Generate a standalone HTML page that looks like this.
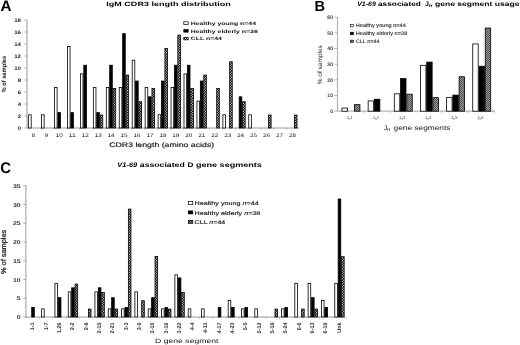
<!DOCTYPE html><html><head><meta charset="utf-8"><style>html,body{margin:0;padding:0;background:#fff;overflow:hidden}svg{display:block;will-change:transform}text{font-family:"Liberation Sans",sans-serif;text-rendering:geometricPrecision}</style></head><body>
<svg width="520" height="345" viewBox="0 0 520 345">
<defs><pattern id="hatA" patternUnits="userSpaceOnUse" width="2" height="2.6"><rect width="2" height="2.6" fill="#000"/><rect x="0" y="0.2" width="1" height="1" fill="#fff"/><rect x="1" y="1.5" width="1" height="1" fill="#fff"/></pattern><pattern id="hatB" patternUnits="userSpaceOnUse" width="2" height="2"><rect width="2" height="2" fill="#9c9c9c"/><path d="M0,0 L1,0 L1,1 L0,1 Z M1,1 L2,1 L2,2 L1,2Z" fill="#4c4c4c"/></pattern></defs>
<rect width="520" height="345" fill="#fff"/>
<text x="0.40" y="10.60" font-size="15.3" font-weight="bold" >A</text>
<text x="106.30" y="5.80" font-size="6.1" font-weight="bold" textLength="124.40" lengthAdjust="spacingAndGlyphs" >IgM CDR3 length distribution</text>
<line x1="27.00" y1="20.00" x2="27.00" y2="128.00" stroke="#9a9a9a" stroke-width="1"/>
<line x1="27.00" y1="128.00" x2="299.20" y2="128.00" stroke="#9a9a9a" stroke-width="1"/>
<line x1="24.50" y1="128.00" x2="27.00" y2="128.00" stroke="#9a9a9a" stroke-width="0.8"/>
<text x="21.00" y="129.85" font-size="5.1" font-weight="bold" text-anchor="end" textLength="3.30" lengthAdjust="spacingAndGlyphs" fill="#222" >0</text>
<line x1="24.50" y1="116.00" x2="27.00" y2="116.00" stroke="#9a9a9a" stroke-width="0.8"/>
<text x="21.00" y="117.85" font-size="5.1" font-weight="bold" text-anchor="end" textLength="3.30" lengthAdjust="spacingAndGlyphs" fill="#222" >2</text>
<line x1="24.50" y1="104.00" x2="27.00" y2="104.00" stroke="#9a9a9a" stroke-width="0.8"/>
<text x="21.00" y="105.85" font-size="5.1" font-weight="bold" text-anchor="end" textLength="3.30" lengthAdjust="spacingAndGlyphs" fill="#222" >4</text>
<line x1="24.50" y1="92.00" x2="27.00" y2="92.00" stroke="#9a9a9a" stroke-width="0.8"/>
<text x="21.00" y="93.85" font-size="5.1" font-weight="bold" text-anchor="end" textLength="3.30" lengthAdjust="spacingAndGlyphs" fill="#222" >6</text>
<line x1="24.50" y1="80.00" x2="27.00" y2="80.00" stroke="#9a9a9a" stroke-width="0.8"/>
<text x="21.00" y="81.85" font-size="5.1" font-weight="bold" text-anchor="end" textLength="3.30" lengthAdjust="spacingAndGlyphs" fill="#222" >8</text>
<line x1="24.50" y1="68.00" x2="27.00" y2="68.00" stroke="#9a9a9a" stroke-width="0.8"/>
<text x="21.00" y="69.85" font-size="5.1" font-weight="bold" text-anchor="end" textLength="6.80" lengthAdjust="spacingAndGlyphs" fill="#222" >10</text>
<line x1="24.50" y1="56.00" x2="27.00" y2="56.00" stroke="#9a9a9a" stroke-width="0.8"/>
<text x="21.00" y="57.85" font-size="5.1" font-weight="bold" text-anchor="end" textLength="6.80" lengthAdjust="spacingAndGlyphs" fill="#222" >12</text>
<line x1="24.50" y1="44.00" x2="27.00" y2="44.00" stroke="#9a9a9a" stroke-width="0.8"/>
<text x="21.00" y="45.85" font-size="5.1" font-weight="bold" text-anchor="end" textLength="6.80" lengthAdjust="spacingAndGlyphs" fill="#222" >14</text>
<line x1="24.50" y1="32.00" x2="27.00" y2="32.00" stroke="#9a9a9a" stroke-width="0.8"/>
<text x="21.00" y="33.85" font-size="5.1" font-weight="bold" text-anchor="end" textLength="6.80" lengthAdjust="spacingAndGlyphs" fill="#222" >16</text>
<line x1="24.50" y1="20.00" x2="27.00" y2="20.00" stroke="#9a9a9a" stroke-width="0.8"/>
<text x="21.00" y="21.85" font-size="5.1" font-weight="bold" text-anchor="end" textLength="6.80" lengthAdjust="spacingAndGlyphs" fill="#222" >18</text>
<line x1="28.00" y1="128.00" x2="28.00" y2="129.50" stroke="#9a9a9a" stroke-width="0.8"/>
<text x="33.40" y="136.80" font-size="5.2" text-anchor="middle" textLength="3.40" lengthAdjust="spacingAndGlyphs" fill="#111" >8</text>
<line x1="40.95" y1="128.00" x2="40.95" y2="129.50" stroke="#9a9a9a" stroke-width="0.8"/>
<text x="46.35" y="136.80" font-size="5.2" text-anchor="middle" textLength="3.40" lengthAdjust="spacingAndGlyphs" fill="#111" >9</text>
<line x1="53.90" y1="128.00" x2="53.90" y2="129.50" stroke="#9a9a9a" stroke-width="0.8"/>
<text x="59.30" y="136.80" font-size="5.2" text-anchor="middle" textLength="7.00" lengthAdjust="spacingAndGlyphs" fill="#111" >10</text>
<line x1="66.85" y1="128.00" x2="66.85" y2="129.50" stroke="#9a9a9a" stroke-width="0.8"/>
<text x="72.25" y="136.80" font-size="5.2" text-anchor="middle" textLength="7.00" lengthAdjust="spacingAndGlyphs" fill="#111" >11</text>
<line x1="79.80" y1="128.00" x2="79.80" y2="129.50" stroke="#9a9a9a" stroke-width="0.8"/>
<text x="85.20" y="136.80" font-size="5.2" text-anchor="middle" textLength="7.00" lengthAdjust="spacingAndGlyphs" fill="#111" >12</text>
<line x1="92.75" y1="128.00" x2="92.75" y2="129.50" stroke="#9a9a9a" stroke-width="0.8"/>
<text x="98.15" y="136.80" font-size="5.2" text-anchor="middle" textLength="7.00" lengthAdjust="spacingAndGlyphs" fill="#111" >13</text>
<line x1="105.70" y1="128.00" x2="105.70" y2="129.50" stroke="#9a9a9a" stroke-width="0.8"/>
<text x="111.10" y="136.80" font-size="5.2" text-anchor="middle" textLength="7.00" lengthAdjust="spacingAndGlyphs" fill="#111" >14</text>
<line x1="118.65" y1="128.00" x2="118.65" y2="129.50" stroke="#9a9a9a" stroke-width="0.8"/>
<text x="124.05" y="136.80" font-size="5.2" text-anchor="middle" textLength="7.00" lengthAdjust="spacingAndGlyphs" fill="#111" >15</text>
<line x1="131.60" y1="128.00" x2="131.60" y2="129.50" stroke="#9a9a9a" stroke-width="0.8"/>
<text x="137.00" y="136.80" font-size="5.2" text-anchor="middle" textLength="7.00" lengthAdjust="spacingAndGlyphs" fill="#111" >16</text>
<line x1="144.55" y1="128.00" x2="144.55" y2="129.50" stroke="#9a9a9a" stroke-width="0.8"/>
<text x="149.95" y="136.80" font-size="5.2" text-anchor="middle" textLength="7.00" lengthAdjust="spacingAndGlyphs" fill="#111" >17</text>
<line x1="157.50" y1="128.00" x2="157.50" y2="129.50" stroke="#9a9a9a" stroke-width="0.8"/>
<text x="162.90" y="136.80" font-size="5.2" text-anchor="middle" textLength="7.00" lengthAdjust="spacingAndGlyphs" fill="#111" >18</text>
<line x1="170.45" y1="128.00" x2="170.45" y2="129.50" stroke="#9a9a9a" stroke-width="0.8"/>
<text x="175.85" y="136.80" font-size="5.2" text-anchor="middle" textLength="7.00" lengthAdjust="spacingAndGlyphs" fill="#111" >19</text>
<line x1="183.40" y1="128.00" x2="183.40" y2="129.50" stroke="#9a9a9a" stroke-width="0.8"/>
<text x="188.80" y="136.80" font-size="5.2" text-anchor="middle" textLength="7.00" lengthAdjust="spacingAndGlyphs" fill="#111" >20</text>
<line x1="196.35" y1="128.00" x2="196.35" y2="129.50" stroke="#9a9a9a" stroke-width="0.8"/>
<text x="201.75" y="136.80" font-size="5.2" text-anchor="middle" textLength="7.00" lengthAdjust="spacingAndGlyphs" fill="#111" >21</text>
<line x1="209.30" y1="128.00" x2="209.30" y2="129.50" stroke="#9a9a9a" stroke-width="0.8"/>
<text x="214.70" y="136.80" font-size="5.2" text-anchor="middle" textLength="7.00" lengthAdjust="spacingAndGlyphs" fill="#111" >22</text>
<line x1="222.25" y1="128.00" x2="222.25" y2="129.50" stroke="#9a9a9a" stroke-width="0.8"/>
<text x="227.65" y="136.80" font-size="5.2" text-anchor="middle" textLength="7.00" lengthAdjust="spacingAndGlyphs" fill="#111" >23</text>
<line x1="235.20" y1="128.00" x2="235.20" y2="129.50" stroke="#9a9a9a" stroke-width="0.8"/>
<text x="240.60" y="136.80" font-size="5.2" text-anchor="middle" textLength="7.00" lengthAdjust="spacingAndGlyphs" fill="#111" >24</text>
<line x1="248.15" y1="128.00" x2="248.15" y2="129.50" stroke="#9a9a9a" stroke-width="0.8"/>
<text x="253.55" y="136.80" font-size="5.2" text-anchor="middle" textLength="7.00" lengthAdjust="spacingAndGlyphs" fill="#111" >25</text>
<line x1="261.10" y1="128.00" x2="261.10" y2="129.50" stroke="#9a9a9a" stroke-width="0.8"/>
<text x="266.50" y="136.80" font-size="5.2" text-anchor="middle" textLength="7.00" lengthAdjust="spacingAndGlyphs" fill="#111" >26</text>
<line x1="274.05" y1="128.00" x2="274.05" y2="129.50" stroke="#9a9a9a" stroke-width="0.8"/>
<text x="279.45" y="136.80" font-size="5.2" text-anchor="middle" textLength="7.00" lengthAdjust="spacingAndGlyphs" fill="#111" >27</text>
<line x1="287.00" y1="128.00" x2="287.00" y2="129.50" stroke="#9a9a9a" stroke-width="0.8"/>
<text x="292.40" y="136.80" font-size="5.2" text-anchor="middle" textLength="7.00" lengthAdjust="spacingAndGlyphs" fill="#111" >28</text>
<rect x="28.60" y="114.76" width="2.60" height="13.24" fill="#fff" stroke="#000" stroke-width="0.8"/>
<rect x="41.55" y="114.76" width="2.60" height="13.24" fill="#fff" stroke="#000" stroke-width="0.8"/>
<rect x="54.50" y="87.49" width="2.60" height="40.51" fill="#fff" stroke="#000" stroke-width="0.8"/>
<rect x="57.90" y="112.61" width="2.60" height="15.39" fill="#000" stroke="#000" stroke-width="0.8"/>
<rect x="67.45" y="46.58" width="2.60" height="81.42" fill="#fff" stroke="#000" stroke-width="0.8"/>
<rect x="70.85" y="112.61" width="2.60" height="15.39" fill="#000" stroke="#000" stroke-width="0.8"/>
<rect x="80.40" y="73.85" width="2.60" height="54.15" fill="#fff" stroke="#000" stroke-width="0.8"/>
<rect x="83.80" y="65.24" width="2.60" height="62.76" fill="#000" stroke="#000" stroke-width="0.8"/>
<rect x="93.35" y="87.49" width="2.60" height="40.51" fill="#fff" stroke="#000" stroke-width="0.8"/>
<rect x="96.75" y="112.61" width="2.60" height="15.39" fill="#000" stroke="#000" stroke-width="0.8"/>
<rect x="100.15" y="115.07" width="2.60" height="12.93" fill="url(#hatA)" stroke="#000" stroke-width="0.8"/>
<rect x="106.30" y="87.49" width="2.60" height="40.51" fill="#fff" stroke="#000" stroke-width="0.8"/>
<rect x="109.70" y="65.24" width="2.60" height="62.76" fill="#000" stroke="#000" stroke-width="0.8"/>
<rect x="113.10" y="88.40" width="2.60" height="39.60" fill="url(#hatA)" stroke="#000" stroke-width="0.8"/>
<rect x="119.25" y="87.49" width="2.60" height="40.51" fill="#fff" stroke="#000" stroke-width="0.8"/>
<rect x="122.65" y="33.66" width="2.60" height="94.34" fill="#000" stroke="#000" stroke-width="0.8"/>
<rect x="126.05" y="75.07" width="2.60" height="52.93" fill="url(#hatA)" stroke="#000" stroke-width="0.8"/>
<rect x="132.20" y="60.22" width="2.60" height="67.78" fill="#fff" stroke="#000" stroke-width="0.8"/>
<rect x="135.60" y="81.03" width="2.60" height="46.97" fill="#000" stroke="#000" stroke-width="0.8"/>
<rect x="139.00" y="101.73" width="2.60" height="26.27" fill="url(#hatA)" stroke="#000" stroke-width="0.8"/>
<rect x="145.15" y="87.49" width="2.60" height="40.51" fill="#fff" stroke="#000" stroke-width="0.8"/>
<rect x="148.55" y="96.82" width="2.60" height="31.18" fill="#000" stroke="#000" stroke-width="0.8"/>
<rect x="151.95" y="88.40" width="2.60" height="39.60" fill="url(#hatA)" stroke="#000" stroke-width="0.8"/>
<rect x="158.10" y="114.76" width="2.60" height="13.24" fill="#fff" stroke="#000" stroke-width="0.8"/>
<rect x="161.50" y="81.03" width="2.60" height="46.97" fill="#000" stroke="#000" stroke-width="0.8"/>
<rect x="164.90" y="48.40" width="2.60" height="79.60" fill="url(#hatA)" stroke="#000" stroke-width="0.8"/>
<rect x="171.05" y="87.49" width="2.60" height="40.51" fill="#fff" stroke="#000" stroke-width="0.8"/>
<rect x="174.45" y="65.24" width="2.60" height="62.76" fill="#000" stroke="#000" stroke-width="0.8"/>
<rect x="177.85" y="35.07" width="2.60" height="92.93" fill="url(#hatA)" stroke="#000" stroke-width="0.8"/>
<rect x="184.00" y="73.85" width="2.60" height="54.15" fill="#fff" stroke="#000" stroke-width="0.8"/>
<rect x="187.40" y="65.24" width="2.60" height="62.76" fill="#000" stroke="#000" stroke-width="0.8"/>
<rect x="190.80" y="88.40" width="2.60" height="39.60" fill="url(#hatA)" stroke="#000" stroke-width="0.8"/>
<rect x="196.95" y="101.13" width="2.60" height="26.87" fill="#fff" stroke="#000" stroke-width="0.8"/>
<rect x="200.35" y="81.03" width="2.60" height="46.97" fill="#000" stroke="#000" stroke-width="0.8"/>
<rect x="203.75" y="75.07" width="2.60" height="52.93" fill="url(#hatA)" stroke="#000" stroke-width="0.8"/>
<rect x="216.70" y="88.40" width="2.60" height="39.60" fill="url(#hatA)" stroke="#000" stroke-width="0.8"/>
<rect x="222.85" y="114.76" width="2.60" height="13.24" fill="#fff" stroke="#000" stroke-width="0.8"/>
<rect x="229.65" y="61.73" width="2.60" height="66.27" fill="url(#hatA)" stroke="#000" stroke-width="0.8"/>
<rect x="239.20" y="96.82" width="2.60" height="31.18" fill="#000" stroke="#000" stroke-width="0.8"/>
<rect x="242.60" y="101.73" width="2.60" height="26.27" fill="url(#hatA)" stroke="#000" stroke-width="0.8"/>
<rect x="248.75" y="114.76" width="2.60" height="13.24" fill="#fff" stroke="#000" stroke-width="0.8"/>
<rect x="268.50" y="115.07" width="2.60" height="12.93" fill="url(#hatA)" stroke="#000" stroke-width="0.8"/>
<rect x="294.40" y="115.07" width="2.60" height="12.93" fill="url(#hatA)" stroke="#000" stroke-width="0.8"/>
<text x="109.20" y="146.70" font-size="6.6" textLength="105.00" lengthAdjust="spacingAndGlyphs" fill="#111" stroke="#111" stroke-width="0.15">CDR3 length (amino acids)</text>
<text x="0" y="0" font-size="6.2" font-weight="bold" text-anchor="middle" textLength="36.60" lengthAdjust="spacingAndGlyphs" fill="#111" transform="translate(5.60,74.20) rotate(-90)" >% of samples</text>
<rect x="183.80" y="21.80" width="4.40" height="2.60" fill="#fff" stroke="#000" stroke-width="0.7"/>
<text x="190.70" y="24.80" font-size="4.8" font-weight="bold" textLength="65.30" lengthAdjust="spacingAndGlyphs" fill="#111" >Healthy young n=44</text>
<rect x="183.80" y="29.55" width="4.40" height="2.60" fill="#000" stroke="#000" stroke-width="0.7"/>
<text x="190.70" y="32.55" font-size="4.8" font-weight="bold" textLength="67.10" lengthAdjust="spacingAndGlyphs" fill="#111" >Healthy elderly n=38</text>
<rect x="183.80" y="37.30" width="4.40" height="2.60" fill="url(#hatA)" stroke="#000" stroke-width="0.7"/>
<text x="190.70" y="40.30" font-size="4.8" font-weight="bold" textLength="31.30" lengthAdjust="spacingAndGlyphs" fill="#111" >CLL n=44</text>
<text x="314.60" y="10.70" font-size="14.6" font-weight="bold" >B</text>
<text x="357.20" y="5.50" font-size="6.4" font-weight="bold" font-style="italic" textLength="18.60" lengthAdjust="spacingAndGlyphs" >V1-69</text>
<text x="378.00" y="5.50" font-size="6.4" font-weight="bold" textLength="42.90" lengthAdjust="spacingAndGlyphs" >associated</text>
<text x="425.00" y="5.50" font-size="6.4" font-weight="bold" textLength="3.90" lengthAdjust="spacingAndGlyphs" >J</text>
<text x="428.80" y="6.80" font-size="4.2" font-weight="bold" font-style="italic" textLength="3.50" lengthAdjust="spacingAndGlyphs" >H</text>
<text x="435.00" y="5.50" font-size="6.4" font-weight="bold" textLength="84.40" lengthAdjust="spacingAndGlyphs" >gene segment usage</text>
<line x1="337.50" y1="17.00" x2="337.50" y2="111.20" stroke="#b4b4b4" stroke-width="1.2"/>
<line x1="337.50" y1="111.20" x2="495.00" y2="111.20" stroke="#b4b4b4" stroke-width="1.2"/>
<line x1="334.20" y1="111.20" x2="337.50" y2="111.20" stroke="#9a9a9a" stroke-width="0.7"/>
<text x="333.20" y="112.95" font-size="4.9" text-anchor="end" textLength="2.90" lengthAdjust="spacingAndGlyphs" fill="#333" stroke="#333" stroke-width="0.12">0</text>
<line x1="334.20" y1="95.53" x2="337.50" y2="95.53" stroke="#9a9a9a" stroke-width="0.7"/>
<text x="333.20" y="97.28" font-size="4.9" text-anchor="end" textLength="5.90" lengthAdjust="spacingAndGlyphs" fill="#333" stroke="#333" stroke-width="0.12">10</text>
<line x1="334.20" y1="79.86" x2="337.50" y2="79.86" stroke="#9a9a9a" stroke-width="0.7"/>
<text x="333.20" y="81.61" font-size="4.9" text-anchor="end" textLength="5.90" lengthAdjust="spacingAndGlyphs" fill="#333" stroke="#333" stroke-width="0.12">20</text>
<line x1="334.20" y1="64.19" x2="337.50" y2="64.19" stroke="#9a9a9a" stroke-width="0.7"/>
<text x="333.20" y="65.94" font-size="4.9" text-anchor="end" textLength="5.90" lengthAdjust="spacingAndGlyphs" fill="#333" stroke="#333" stroke-width="0.12">30</text>
<line x1="334.20" y1="48.52" x2="337.50" y2="48.52" stroke="#9a9a9a" stroke-width="0.7"/>
<text x="333.20" y="50.27" font-size="4.9" text-anchor="end" textLength="5.90" lengthAdjust="spacingAndGlyphs" fill="#333" stroke="#333" stroke-width="0.12">40</text>
<line x1="334.20" y1="32.85" x2="337.50" y2="32.85" stroke="#9a9a9a" stroke-width="0.7"/>
<text x="333.20" y="34.60" font-size="4.9" text-anchor="end" textLength="5.90" lengthAdjust="spacingAndGlyphs" fill="#333" stroke="#333" stroke-width="0.12">50</text>
<line x1="334.20" y1="17.18" x2="337.50" y2="17.18" stroke="#9a9a9a" stroke-width="0.7"/>
<text x="333.20" y="18.93" font-size="4.9" text-anchor="end" textLength="5.90" lengthAdjust="spacingAndGlyphs" fill="#333" stroke="#333" stroke-width="0.12">60</text>
<line x1="363.75" y1="111.20" x2="363.75" y2="112.70" stroke="#9a9a9a" stroke-width="0.8"/>
<line x1="389.90" y1="111.20" x2="389.90" y2="112.70" stroke="#9a9a9a" stroke-width="0.8"/>
<line x1="416.05" y1="111.20" x2="416.05" y2="112.70" stroke="#9a9a9a" stroke-width="0.8"/>
<line x1="442.20" y1="111.20" x2="442.20" y2="112.70" stroke="#9a9a9a" stroke-width="0.8"/>
<line x1="468.35" y1="111.20" x2="468.35" y2="112.70" stroke="#9a9a9a" stroke-width="0.8"/>
<line x1="494.50" y1="111.20" x2="494.50" y2="112.70" stroke="#9a9a9a" stroke-width="0.8"/>
<rect x="342.00" y="108.04" width="5.45" height="3.16" fill="#fff" stroke="#000" stroke-width="0.8"/>
<rect x="354.50" y="104.64" width="5.45" height="6.56" fill="url(#hatB)" stroke="#000" stroke-width="0.8"/>
<rect x="368.15" y="100.92" width="5.45" height="10.28" fill="#fff" stroke="#000" stroke-width="0.8"/>
<rect x="374.40" y="99.23" width="5.45" height="11.97" fill="#000" stroke="#000" stroke-width="0.8"/>
<rect x="394.30" y="93.79" width="5.45" height="17.41" fill="#fff" stroke="#000" stroke-width="0.8"/>
<rect x="400.55" y="78.61" width="5.45" height="32.59" fill="#000" stroke="#000" stroke-width="0.8"/>
<rect x="406.80" y="94.19" width="5.45" height="17.01" fill="url(#hatB)" stroke="#000" stroke-width="0.8"/>
<rect x="420.45" y="65.30" width="5.45" height="45.90" fill="#fff" stroke="#000" stroke-width="0.8"/>
<rect x="426.70" y="62.12" width="5.45" height="49.08" fill="#000" stroke="#000" stroke-width="0.8"/>
<rect x="432.95" y="97.67" width="5.45" height="13.53" fill="url(#hatB)" stroke="#000" stroke-width="0.8"/>
<rect x="446.60" y="97.35" width="5.45" height="13.85" fill="#fff" stroke="#000" stroke-width="0.8"/>
<rect x="452.85" y="95.11" width="5.45" height="16.09" fill="#000" stroke="#000" stroke-width="0.8"/>
<rect x="459.10" y="76.78" width="5.45" height="34.42" fill="url(#hatB)" stroke="#000" stroke-width="0.8"/>
<rect x="472.75" y="43.93" width="5.45" height="67.27" fill="#fff" stroke="#000" stroke-width="0.8"/>
<rect x="479.00" y="66.24" width="5.45" height="44.96" fill="#000" stroke="#000" stroke-width="0.8"/>
<rect x="485.25" y="28.03" width="5.45" height="83.17" fill="url(#hatB)" stroke="#000" stroke-width="0.8"/>
<text x="346.40" y="119.30" font-size="4.4" textLength="2.20" lengthAdjust="spacingAndGlyphs" fill="#444" >J</text>
<text x="348.60" y="119.90" font-size="3.0" textLength="2.00" lengthAdjust="spacingAndGlyphs" fill="#444" >H</text>
<text x="350.60" y="119.30" font-size="4.4" textLength="2.30" lengthAdjust="spacingAndGlyphs" fill="#444" >1</text>
<text x="372.55" y="119.30" font-size="4.4" textLength="2.20" lengthAdjust="spacingAndGlyphs" fill="#444" >J</text>
<text x="374.75" y="119.90" font-size="3.0" textLength="2.00" lengthAdjust="spacingAndGlyphs" fill="#444" >H</text>
<text x="376.75" y="119.30" font-size="4.4" textLength="2.30" lengthAdjust="spacingAndGlyphs" fill="#444" >2</text>
<text x="398.70" y="119.30" font-size="4.4" textLength="2.20" lengthAdjust="spacingAndGlyphs" fill="#444" >J</text>
<text x="400.90" y="119.90" font-size="3.0" textLength="2.00" lengthAdjust="spacingAndGlyphs" fill="#444" >H</text>
<text x="402.90" y="119.30" font-size="4.4" textLength="2.30" lengthAdjust="spacingAndGlyphs" fill="#444" >3</text>
<text x="424.85" y="119.30" font-size="4.4" textLength="2.20" lengthAdjust="spacingAndGlyphs" fill="#444" >J</text>
<text x="427.05" y="119.90" font-size="3.0" textLength="2.00" lengthAdjust="spacingAndGlyphs" fill="#444" >H</text>
<text x="429.05" y="119.30" font-size="4.4" textLength="2.30" lengthAdjust="spacingAndGlyphs" fill="#444" >4</text>
<text x="451.00" y="119.30" font-size="4.4" textLength="2.20" lengthAdjust="spacingAndGlyphs" fill="#444" >J</text>
<text x="453.20" y="119.90" font-size="3.0" textLength="2.00" lengthAdjust="spacingAndGlyphs" fill="#444" >H</text>
<text x="455.20" y="119.30" font-size="4.4" textLength="2.30" lengthAdjust="spacingAndGlyphs" fill="#444" >5</text>
<text x="477.15" y="119.30" font-size="4.4" textLength="2.20" lengthAdjust="spacingAndGlyphs" fill="#444" >J</text>
<text x="479.35" y="119.90" font-size="3.0" textLength="2.00" lengthAdjust="spacingAndGlyphs" fill="#444" >H</text>
<text x="481.35" y="119.30" font-size="4.4" textLength="2.30" lengthAdjust="spacingAndGlyphs" fill="#444" >6</text>
<text x="384.00" y="130.10" font-size="6.6" textLength="3.20" lengthAdjust="spacingAndGlyphs" fill="#111" >J</text>
<text x="386.90" y="131.00" font-size="4.4" textLength="3.20" lengthAdjust="spacingAndGlyphs" fill="#111" >H</text>
<text x="393.60" y="130.10" font-size="6.6" textLength="56.80" lengthAdjust="spacingAndGlyphs" fill="#111" >gene segments</text>
<text x="0" y="0" font-size="6.3" text-anchor="middle" textLength="39.10" lengthAdjust="spacingAndGlyphs" fill="#222" transform="translate(321.60,64.70) rotate(-90)" >% of samples</text>
<rect x="350.50" y="24.30" width="3.00" height="2.50" fill="#fff" stroke="#000" stroke-width="0.6"/>
<text x="355.80" y="27.30" font-size="5.0" textLength="50.00" lengthAdjust="spacingAndGlyphs" fill="#222" stroke="#222" stroke-width="0.1">Healthy young n=44</text>
<rect x="350.50" y="32.20" width="3.00" height="2.50" fill="#000" stroke="#000" stroke-width="0.6"/>
<text x="355.80" y="35.20" font-size="5.0" textLength="51.50" lengthAdjust="spacingAndGlyphs" fill="#222" stroke="#222" stroke-width="0.1">Healthy elderly n=38</text>
<rect x="350.50" y="40.10" width="3.00" height="2.50" fill="url(#hatB)" stroke="#000" stroke-width="0.6"/>
<text x="355.80" y="43.10" font-size="5.0" textLength="23.80" lengthAdjust="spacingAndGlyphs" fill="#222" stroke="#222" stroke-width="0.1">CLL n=44</text>
<text x="0.30" y="172.80" font-size="15.3" font-weight="bold" textLength="10.80" lengthAdjust="spacingAndGlyphs" >C</text>
<text x="117.30" y="167.30" font-size="6.6" font-weight="bold" font-style="italic" textLength="20.00" lengthAdjust="spacingAndGlyphs" >V1-69</text>
<text x="139.80" y="167.30" font-size="6.6" font-weight="bold" textLength="44.90" lengthAdjust="spacingAndGlyphs" >associated</text>
<text x="187.40" y="167.30" font-size="6.6" font-weight="bold" textLength="5.90" lengthAdjust="spacingAndGlyphs" >D</text>
<text x="196.00" y="167.30" font-size="6.6" font-weight="bold" textLength="65.80" lengthAdjust="spacingAndGlyphs" >gene segments</text>
<line x1="25.90" y1="185.20" x2="25.90" y2="317.00" stroke="#9a9a9a" stroke-width="1"/>
<line x1="25.90" y1="317.00" x2="345.20" y2="317.00" stroke="#9a9a9a" stroke-width="1"/>
<line x1="23.30" y1="317.00" x2="25.90" y2="317.00" stroke="#9a9a9a" stroke-width="0.8"/>
<text x="20.70" y="319.00" font-size="5.5" font-weight="bold" text-anchor="end" textLength="3.90" lengthAdjust="spacingAndGlyphs" fill="#333" >0</text>
<line x1="23.30" y1="298.25" x2="25.90" y2="298.25" stroke="#9a9a9a" stroke-width="0.8"/>
<text x="20.70" y="300.25" font-size="5.5" font-weight="bold" text-anchor="end" textLength="3.90" lengthAdjust="spacingAndGlyphs" fill="#333" >5</text>
<line x1="23.30" y1="279.51" x2="25.90" y2="279.51" stroke="#9a9a9a" stroke-width="0.8"/>
<text x="20.70" y="281.51" font-size="5.5" font-weight="bold" text-anchor="end" textLength="7.80" lengthAdjust="spacingAndGlyphs" fill="#333" >10</text>
<line x1="23.30" y1="260.76" x2="25.90" y2="260.76" stroke="#9a9a9a" stroke-width="0.8"/>
<text x="20.70" y="262.76" font-size="5.5" font-weight="bold" text-anchor="end" textLength="7.80" lengthAdjust="spacingAndGlyphs" fill="#333" >15</text>
<line x1="23.30" y1="242.02" x2="25.90" y2="242.02" stroke="#9a9a9a" stroke-width="0.8"/>
<text x="20.70" y="244.02" font-size="5.5" font-weight="bold" text-anchor="end" textLength="7.80" lengthAdjust="spacingAndGlyphs" fill="#333" >20</text>
<line x1="23.30" y1="223.27" x2="25.90" y2="223.27" stroke="#9a9a9a" stroke-width="0.8"/>
<text x="20.70" y="225.27" font-size="5.5" font-weight="bold" text-anchor="end" textLength="7.80" lengthAdjust="spacingAndGlyphs" fill="#333" >25</text>
<line x1="23.30" y1="204.53" x2="25.90" y2="204.53" stroke="#9a9a9a" stroke-width="0.8"/>
<text x="20.70" y="206.53" font-size="5.5" font-weight="bold" text-anchor="end" textLength="7.80" lengthAdjust="spacingAndGlyphs" fill="#333" >30</text>
<line x1="23.30" y1="185.78" x2="25.90" y2="185.78" stroke="#9a9a9a" stroke-width="0.8"/>
<text x="20.70" y="187.78" font-size="5.5" font-weight="bold" text-anchor="end" textLength="7.80" lengthAdjust="spacingAndGlyphs" fill="#333" >35</text>
<line x1="26.30" y1="317.00" x2="26.30" y2="318.50" stroke="#9a9a9a" stroke-width="0.8"/>
<line x1="39.62" y1="317.00" x2="39.62" y2="318.50" stroke="#9a9a9a" stroke-width="0.8"/>
<line x1="52.95" y1="317.00" x2="52.95" y2="318.50" stroke="#9a9a9a" stroke-width="0.8"/>
<line x1="66.28" y1="317.00" x2="66.28" y2="318.50" stroke="#9a9a9a" stroke-width="0.8"/>
<line x1="79.60" y1="317.00" x2="79.60" y2="318.50" stroke="#9a9a9a" stroke-width="0.8"/>
<line x1="92.93" y1="317.00" x2="92.93" y2="318.50" stroke="#9a9a9a" stroke-width="0.8"/>
<line x1="106.25" y1="317.00" x2="106.25" y2="318.50" stroke="#9a9a9a" stroke-width="0.8"/>
<line x1="119.57" y1="317.00" x2="119.57" y2="318.50" stroke="#9a9a9a" stroke-width="0.8"/>
<line x1="132.90" y1="317.00" x2="132.90" y2="318.50" stroke="#9a9a9a" stroke-width="0.8"/>
<line x1="146.22" y1="317.00" x2="146.22" y2="318.50" stroke="#9a9a9a" stroke-width="0.8"/>
<line x1="159.55" y1="317.00" x2="159.55" y2="318.50" stroke="#9a9a9a" stroke-width="0.8"/>
<line x1="172.88" y1="317.00" x2="172.88" y2="318.50" stroke="#9a9a9a" stroke-width="0.8"/>
<line x1="186.20" y1="317.00" x2="186.20" y2="318.50" stroke="#9a9a9a" stroke-width="0.8"/>
<line x1="199.53" y1="317.00" x2="199.53" y2="318.50" stroke="#9a9a9a" stroke-width="0.8"/>
<line x1="212.85" y1="317.00" x2="212.85" y2="318.50" stroke="#9a9a9a" stroke-width="0.8"/>
<line x1="226.18" y1="317.00" x2="226.18" y2="318.50" stroke="#9a9a9a" stroke-width="0.8"/>
<line x1="239.50" y1="317.00" x2="239.50" y2="318.50" stroke="#9a9a9a" stroke-width="0.8"/>
<line x1="252.82" y1="317.00" x2="252.82" y2="318.50" stroke="#9a9a9a" stroke-width="0.8"/>
<line x1="266.15" y1="317.00" x2="266.15" y2="318.50" stroke="#9a9a9a" stroke-width="0.8"/>
<line x1="279.47" y1="317.00" x2="279.47" y2="318.50" stroke="#9a9a9a" stroke-width="0.8"/>
<line x1="292.80" y1="317.00" x2="292.80" y2="318.50" stroke="#9a9a9a" stroke-width="0.8"/>
<line x1="306.12" y1="317.00" x2="306.12" y2="318.50" stroke="#9a9a9a" stroke-width="0.8"/>
<line x1="319.45" y1="317.00" x2="319.45" y2="318.50" stroke="#9a9a9a" stroke-width="0.8"/>
<line x1="332.77" y1="317.00" x2="332.77" y2="318.50" stroke="#9a9a9a" stroke-width="0.8"/>
<line x1="346.10" y1="317.00" x2="346.10" y2="318.50" stroke="#9a9a9a" stroke-width="0.8"/>
<rect x="31.70" y="307.53" width="2.60" height="9.47" fill="#000" stroke="#000" stroke-width="0.8"/>
<rect x="41.62" y="308.88" width="2.60" height="8.12" fill="#fff" stroke="#000" stroke-width="0.8"/>
<rect x="54.95" y="283.32" width="2.60" height="33.68" fill="#fff" stroke="#000" stroke-width="0.8"/>
<rect x="58.35" y="297.67" width="2.60" height="19.33" fill="#000" stroke="#000" stroke-width="0.8"/>
<rect x="68.28" y="291.84" width="2.60" height="25.16" fill="#fff" stroke="#000" stroke-width="0.8"/>
<rect x="71.68" y="287.80" width="2.60" height="29.20" fill="#000" stroke="#000" stroke-width="0.8"/>
<rect x="75.08" y="284.08" width="2.60" height="32.92" fill="url(#hatA)" stroke="#000" stroke-width="0.8"/>
<rect x="88.40" y="309.07" width="2.60" height="7.93" fill="url(#hatA)" stroke="#000" stroke-width="0.8"/>
<rect x="94.93" y="291.84" width="2.60" height="25.16" fill="#fff" stroke="#000" stroke-width="0.8"/>
<rect x="98.33" y="287.80" width="2.60" height="29.20" fill="#000" stroke="#000" stroke-width="0.8"/>
<rect x="101.73" y="292.41" width="2.60" height="24.59" fill="url(#hatA)" stroke="#000" stroke-width="0.8"/>
<rect x="108.25" y="308.88" width="2.60" height="8.12" fill="#fff" stroke="#000" stroke-width="0.8"/>
<rect x="111.65" y="297.67" width="2.60" height="19.33" fill="#000" stroke="#000" stroke-width="0.8"/>
<rect x="115.05" y="309.07" width="2.60" height="7.93" fill="url(#hatA)" stroke="#000" stroke-width="0.8"/>
<rect x="121.57" y="308.88" width="2.60" height="8.12" fill="#fff" stroke="#000" stroke-width="0.8"/>
<rect x="124.97" y="307.53" width="2.60" height="9.47" fill="#000" stroke="#000" stroke-width="0.8"/>
<rect x="128.37" y="209.10" width="2.60" height="107.90" fill="url(#hatA)" stroke="#000" stroke-width="0.8"/>
<rect x="134.90" y="291.84" width="2.60" height="25.16" fill="#fff" stroke="#000" stroke-width="0.8"/>
<rect x="141.70" y="300.74" width="2.60" height="16.26" fill="url(#hatA)" stroke="#000" stroke-width="0.8"/>
<rect x="148.22" y="308.88" width="2.60" height="8.12" fill="#fff" stroke="#000" stroke-width="0.8"/>
<rect x="151.62" y="297.67" width="2.60" height="19.33" fill="#000" stroke="#000" stroke-width="0.8"/>
<rect x="155.03" y="256.40" width="2.60" height="60.60" fill="url(#hatA)" stroke="#000" stroke-width="0.8"/>
<rect x="161.55" y="308.88" width="2.60" height="8.12" fill="#fff" stroke="#000" stroke-width="0.8"/>
<rect x="164.95" y="307.53" width="2.60" height="9.47" fill="#000" stroke="#000" stroke-width="0.8"/>
<rect x="168.35" y="309.07" width="2.60" height="7.93" fill="url(#hatA)" stroke="#000" stroke-width="0.8"/>
<rect x="174.88" y="274.80" width="2.60" height="42.20" fill="#fff" stroke="#000" stroke-width="0.8"/>
<rect x="178.28" y="277.94" width="2.60" height="39.06" fill="#000" stroke="#000" stroke-width="0.8"/>
<rect x="181.68" y="292.41" width="2.60" height="24.59" fill="url(#hatA)" stroke="#000" stroke-width="0.8"/>
<rect x="188.20" y="308.88" width="2.60" height="8.12" fill="#fff" stroke="#000" stroke-width="0.8"/>
<rect x="201.53" y="308.88" width="2.60" height="8.12" fill="#fff" stroke="#000" stroke-width="0.8"/>
<rect x="218.25" y="307.53" width="2.60" height="9.47" fill="#000" stroke="#000" stroke-width="0.8"/>
<rect x="228.18" y="300.36" width="2.60" height="16.64" fill="#fff" stroke="#000" stroke-width="0.8"/>
<rect x="231.58" y="307.53" width="2.60" height="9.47" fill="#000" stroke="#000" stroke-width="0.8"/>
<rect x="241.50" y="308.88" width="2.60" height="8.12" fill="#fff" stroke="#000" stroke-width="0.8"/>
<rect x="244.90" y="307.53" width="2.60" height="9.47" fill="#000" stroke="#000" stroke-width="0.8"/>
<rect x="254.82" y="308.88" width="2.60" height="8.12" fill="#fff" stroke="#000" stroke-width="0.8"/>
<rect x="274.95" y="309.07" width="2.60" height="7.93" fill="url(#hatA)" stroke="#000" stroke-width="0.8"/>
<rect x="281.47" y="308.88" width="2.60" height="8.12" fill="#fff" stroke="#000" stroke-width="0.8"/>
<rect x="284.87" y="307.53" width="2.60" height="9.47" fill="#000" stroke="#000" stroke-width="0.8"/>
<rect x="294.80" y="283.32" width="2.60" height="33.68" fill="#fff" stroke="#000" stroke-width="0.8"/>
<rect x="301.60" y="309.07" width="2.60" height="7.93" fill="url(#hatA)" stroke="#000" stroke-width="0.8"/>
<rect x="308.12" y="283.32" width="2.60" height="33.68" fill="#fff" stroke="#000" stroke-width="0.8"/>
<rect x="311.52" y="297.67" width="2.60" height="19.33" fill="#000" stroke="#000" stroke-width="0.8"/>
<rect x="314.92" y="309.07" width="2.60" height="7.93" fill="url(#hatA)" stroke="#000" stroke-width="0.8"/>
<rect x="321.45" y="300.36" width="2.60" height="16.64" fill="#fff" stroke="#000" stroke-width="0.8"/>
<rect x="324.85" y="307.53" width="2.60" height="9.47" fill="#000" stroke="#000" stroke-width="0.8"/>
<rect x="334.77" y="283.32" width="2.60" height="33.68" fill="#fff" stroke="#000" stroke-width="0.8"/>
<rect x="338.17" y="199.01" width="2.60" height="117.99" fill="#000" stroke="#000" stroke-width="0.8"/>
<rect x="341.57" y="256.70" width="2.60" height="60.30" fill="url(#hatA)" stroke="#000" stroke-width="0.8"/>
<text x="0" y="0" font-size="5.5" font-weight="bold" text-anchor="end" fill="#333" transform="translate(34.25,322.40) rotate(-90)" >1-1</text>
<text x="0" y="0" font-size="5.5" font-weight="bold" text-anchor="end" fill="#333" transform="translate(47.57,322.40) rotate(-90)" >1-7</text>
<text x="0" y="0" font-size="5.5" font-weight="bold" text-anchor="end" fill="#333" transform="translate(60.90,322.40) rotate(-90)" >1.26</text>
<text x="0" y="0" font-size="5.5" font-weight="bold" text-anchor="end" fill="#333" transform="translate(74.23,322.40) rotate(-90)" >2-2</text>
<text x="0" y="0" font-size="5.5" font-weight="bold" text-anchor="end" fill="#333" transform="translate(87.55,322.40) rotate(-90)" >2-8</text>
<text x="0" y="0" font-size="5.5" font-weight="bold" text-anchor="end" fill="#333" transform="translate(100.88,322.40) rotate(-90)" >2-15</text>
<text x="0" y="0" font-size="5.5" font-weight="bold" text-anchor="end" fill="#333" transform="translate(114.20,322.40) rotate(-90)" >2-21</text>
<text x="0" y="0" font-size="5.5" font-weight="bold" text-anchor="end" fill="#333" transform="translate(127.52,322.40) rotate(-90)" >3-3</text>
<text x="0" y="0" font-size="5.5" font-weight="bold" text-anchor="end" fill="#333" transform="translate(140.85,322.40) rotate(-90)" >3-9</text>
<text x="0" y="0" font-size="5.5" font-weight="bold" text-anchor="end" fill="#333" transform="translate(154.17,322.40) rotate(-90)" >3-10</text>
<text x="0" y="0" font-size="5.5" font-weight="bold" text-anchor="end" fill="#333" transform="translate(167.50,322.40) rotate(-90)" >3-16</text>
<text x="0" y="0" font-size="5.5" font-weight="bold" text-anchor="end" fill="#333" transform="translate(180.82,322.40) rotate(-90)" >3-22</text>
<text x="0" y="0" font-size="5.5" font-weight="bold" text-anchor="end" fill="#333" transform="translate(194.15,322.40) rotate(-90)" >4-4</text>
<text x="0" y="0" font-size="5.5" font-weight="bold" text-anchor="end" fill="#333" transform="translate(207.47,322.40) rotate(-90)" >4-11</text>
<text x="0" y="0" font-size="5.5" font-weight="bold" text-anchor="end" fill="#333" transform="translate(220.80,322.40) rotate(-90)" >4-17</text>
<text x="0" y="0" font-size="5.5" font-weight="bold" text-anchor="end" fill="#333" transform="translate(234.12,322.40) rotate(-90)" >4-23</text>
<text x="0" y="0" font-size="5.5" font-weight="bold" text-anchor="end" fill="#333" transform="translate(247.45,322.40) rotate(-90)" >5-5</text>
<text x="0" y="0" font-size="5.5" font-weight="bold" text-anchor="end" fill="#333" transform="translate(260.77,322.40) rotate(-90)" >5-12</text>
<text x="0" y="0" font-size="5.5" font-weight="bold" text-anchor="end" fill="#333" transform="translate(274.10,322.40) rotate(-90)" >5-18</text>
<text x="0" y="0" font-size="5.5" font-weight="bold" text-anchor="end" fill="#333" transform="translate(287.42,322.40) rotate(-90)" >5-24</text>
<text x="0" y="0" font-size="5.5" font-weight="bold" text-anchor="end" fill="#333" transform="translate(300.75,322.40) rotate(-90)" >6-6</text>
<text x="0" y="0" font-size="5.5" font-weight="bold" text-anchor="end" fill="#333" transform="translate(314.07,322.40) rotate(-90)" >6-13</text>
<text x="0" y="0" font-size="5.5" font-weight="bold" text-anchor="end" fill="#333" transform="translate(327.40,322.40) rotate(-90)" >6-19</text>
<text x="0" y="0" font-size="5.5" font-weight="bold" text-anchor="end" fill="#333" transform="translate(340.72,322.40) rotate(-90)" >Unk</text>
<text x="155.00" y="342.70" font-size="6.3" textLength="63.50" lengthAdjust="spacingAndGlyphs" fill="#111" >D gene segment</text>
<text x="0" y="0" font-size="7.1" text-anchor="middle" textLength="44.40" lengthAdjust="spacingAndGlyphs" fill="#1a1a1a" transform="translate(6.40,251.90) rotate(-90)" stroke="#1a1a1a" stroke-width="0.25">% of samples</text>
<rect x="188.30" y="201.40" width="4.50" height="3.00" fill="#fff" stroke="#000" stroke-width="0.7"/>
<text x="194.60" y="205.00" font-size="5.4" textLength="64.10" lengthAdjust="spacingAndGlyphs" fill="#111" stroke="#111" stroke-width="0.12">Healthy young <tspan font-style="italic">n</tspan>=44</text>
<rect x="188.30" y="210.90" width="4.50" height="3.00" fill="#000" stroke="#000" stroke-width="0.7"/>
<text x="194.60" y="214.50" font-size="5.4" textLength="65.80" lengthAdjust="spacingAndGlyphs" fill="#111" stroke="#111" stroke-width="0.12">Healthy elderly <tspan font-style="italic">n</tspan>=38</text>
<rect x="188.30" y="220.40" width="4.50" height="3.00" fill="url(#hatA)" stroke="#000" stroke-width="0.7"/>
<text x="194.60" y="224.00" font-size="5.4" textLength="30.70" lengthAdjust="spacingAndGlyphs" fill="#111" stroke="#111" stroke-width="0.12">CLL <tspan font-style="italic">n</tspan>=44</text>
</svg></body></html>
